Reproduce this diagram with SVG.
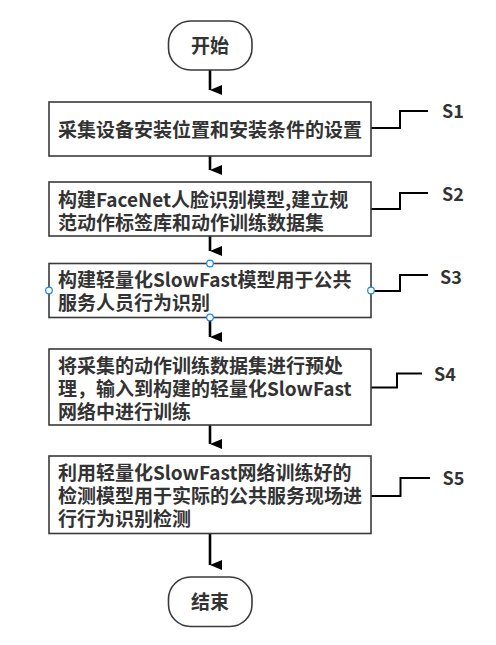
<svg xmlns="http://www.w3.org/2000/svg" width="496" height="645" viewBox="0 0 496 645">
<defs>
<marker id="ah" markerUnits="userSpaceOnUse" markerWidth="10" markerHeight="12" viewBox="0 0 10 12" refX="5" refY="12" orient="auto-start-reverse">
<path d="M0,0 L10,0 L5,12 Z" fill="#000"/>
</marker>
</defs>
<style>
.box{fill:#fff;stroke:#3a3a3a;stroke-width:1.6}
.t{font-family:"Noto Sans CJK SC","Microsoft YaHei",sans-serif;font-weight:bold;font-size:19px;fill:#333}
.c{text-anchor:middle}
.lbl{font-family:"Noto Sans CJK SC","Open Sans",sans-serif;font-weight:bold;font-size:18px;fill:#333}
.flow{stroke:#000;stroke-width:2.6;fill:none}
.lead{stroke:#000;stroke-width:2;fill:none}
.h{fill:#fff;stroke:#1e88e5;stroke-width:1.2}
</style>
<g id="connectors">
<line class="flow" x1="210" y1="70" x2="210" y2="90" marker-end="url(#ah)"/>
<line class="flow" x1="210" y1="156" x2="210" y2="170" marker-end="url(#ah)"/>
<line class="flow" x1="210" y1="236" x2="210" y2="251" marker-end="url(#ah)"/>
<line class="flow" x1="210" y1="318" x2="210" y2="337" marker-end="url(#ah)"/>
<line class="flow" x1="210" y1="425" x2="210" y2="444" marker-end="url(#ah)"/>
<line class="flow" x1="210" y1="533" x2="210" y2="565" marker-end="url(#ah)"/>
<polyline class="lead" points="371,128 400,128 400,111 428,111"/>
<polyline class="lead" points="371,209 400,209 400,193 428,193"/>
<polyline class="lead" points="371,291 400,291 400,275 428,275"/>
<polyline class="lead" points="371,387.5 397,387.5 397,373.5 422,373.5"/>
<polyline class="lead" points="371,496 400.5,496 400.5,478 430,478"/>
</g>
<g id="start">
<rect class="box" x="168.5" y="21" width="83.5" height="49" rx="22" ry="22"/>
<text class="t c" x="210" y="53">开始</text>
</g>
<g id="s1">
<rect class="box" x="49" y="102" width="322" height="54"/>
<text class="t" x="58" y="136.5">采集设备安装位置和安装条件的设置</text>
<text class="lbl" x="442" y="117.5">S1</text>
</g>
<g id="s2">
<rect class="box" x="49" y="182" width="322" height="54"/>
<text class="t" x="58" y="206.5">构建FaceNet人脸识别模型,建立规<tspan x="58" y="229.5">范动作标签库和动作训练数据集</tspan></text>
<text class="lbl" x="442" y="201">S2</text>
</g>
<g id="s3">
<rect class="box" x="49" y="263.5" width="322" height="54"/>
<text class="t" x="58" y="287">构建轻量化SlowFast模型用于公共<tspan x="58" y="310">服务人员行为识别</tspan></text>
<text class="lbl" x="440" y="283.5">S3</text>
<circle class="h" cx="210" cy="263.5" r="3.3"/>
<circle class="h" cx="49" cy="290.5" r="3.3"/>
<circle class="h" cx="371" cy="290.5" r="3.3"/>
<circle class="h" cx="210" cy="317.5" r="3.3"/>
</g>
<g id="s4">
<rect class="box" x="49" y="349" width="322" height="76"/>
<text class="t" x="58" y="372.5">将采集的动作训练数据集进行预处<tspan x="58" y="395.5">理，输入到构建的轻量化SlowFast</tspan><tspan x="58" y="418.5">网络中进行训练</tspan></text>
<text class="lbl" x="434" y="380.5">S4</text>
</g>
<g id="s5">
<rect class="box" x="49" y="456" width="322" height="77.5"/>
<text class="t" x="58" y="480">利用轻量化SlowFast网络训练好的<tspan x="58" y="503">检测模型用于实际的公共服务现场进</tspan><tspan x="58" y="526">行行为识别检测</tspan></text>
<text class="lbl" x="442.5" y="484.5">S5</text>
</g>
<g id="end">
<rect class="box" x="168.5" y="577" width="83.5" height="49.5" rx="22" ry="22"/>
<text class="t c" x="210" y="609">结束</text>
</g>
</svg>
